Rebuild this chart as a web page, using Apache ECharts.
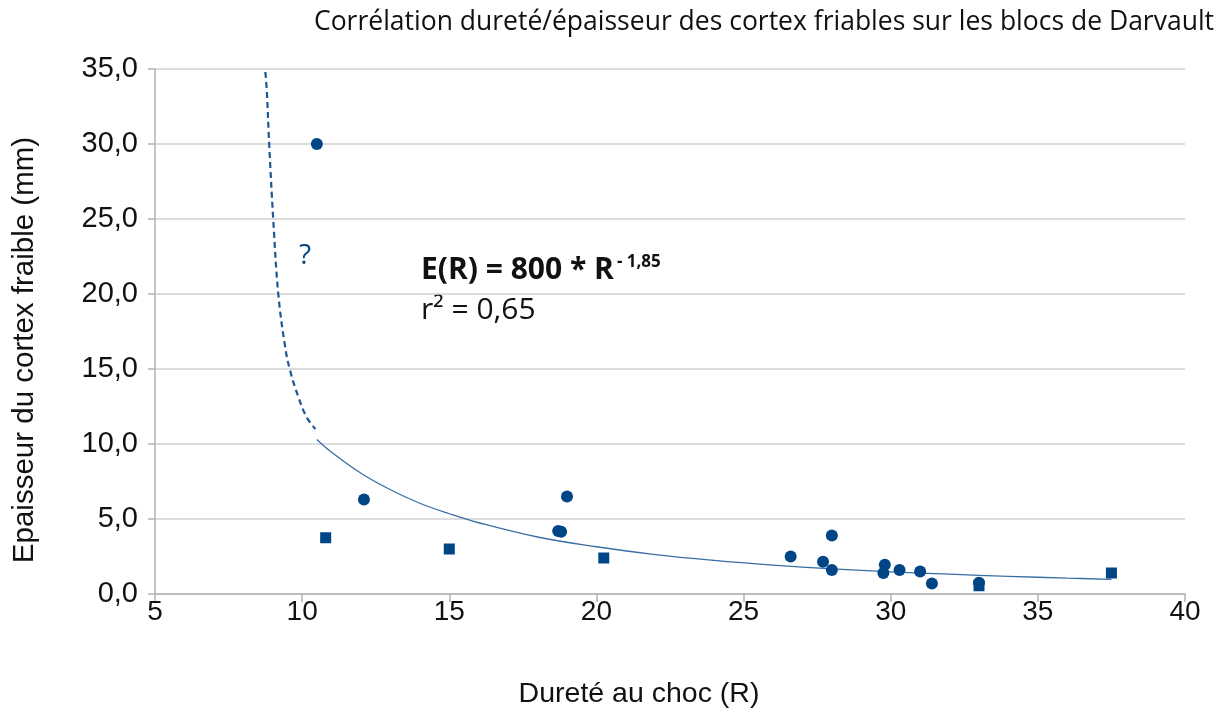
<!DOCTYPE html>
<html>
<head>
<meta charset="utf-8">
<script src="https://cdn.jsdelivr.net/npm/echarts@6/dist/echarts.min.js"></script>
<style>
  html, body { margin: 0; padding: 0; background: #fff; }
  #chart { width: 1216px; height: 712px; }
</style>
</head>
<body>
<div id="chart"></div>
<script>
// points mesurés (ronds) : dureté R, épaisseur mm
const rondsR = [10.5, 12.1, 18.7, 18.8, 19.0, 26.6, 27.7, 28.0, 28.0, 29.8, 29.75, 30.3, 31.0, 31.4, 33.0];
const rondsE = [30.0, 6.3, 4.2, 4.15, 6.5, 2.5, 2.15, 3.9, 1.6, 1.95, 1.4, 1.6, 1.5, 0.7, 0.75];
// points carrés
const carresR = [10.8, 15.0, 20.25, 33.0, 37.5];
const carresE = [3.75, 3.0, 2.4, 0.55, 1.4];
// courbe de tendance (trait plein)
const tendR = [10.5, 11, 12, 13, 14, 15, 16, 18, 20, 22, 24, 26, 28, 30, 32, 34, 36, 37.5];
const tendE = [10.3, 9.45, 8.05, 6.95, 6.05, 5.35, 4.75, 3.8, 3.15, 2.63, 2.24, 1.93, 1.68, 1.48, 1.32, 1.18, 1.06, 0.98];
// prolongement en pointillés (tracé à la main)
const pointR = [8.75, 8.8, 8.88, 9.02, 9.19, 9.42, 9.59, 9.87, 10.15, 10.45];
const pointE = [34.8, 33.5, 30.0, 24.9, 20.0, 16.5, 14.9, 13.15, 11.8, 11.0];
const yTicks = [0, 5, 10, 15, 20, 25, 30, 35];

const zip = (a, b) => a.map((v, i) => [v, b[i]]);
const bleu = '#004586';

const chart = echarts.init(document.getElementById('chart'));
chart.setOption({
  animation: false,
  backgroundColor: '#fff',
  title: {
    text: 'Corrélation dureté/épaisseur des cortex friables sur les blocs de Darvault',
    left: 759, top: 4, textAlign: 'center',
    textStyle: { fontFamily: 'Open Sans', fontWeight: 'normal', fontSize: 26.5, color: '#111' }
  },
  grid: { left: 155, right: 31, top: 69, bottom: 118 },
  xAxis: {
    type: 'value', min: 5, max: 40, interval: 5,
    axisLine: { show: true, lineStyle: { color: '#b3b3b3', width: 1.5 } },
    axisTick: { show: true, length: 8, lineStyle: { color: '#b3b3b3', width: 1.5 } },
    axisLabel: { fontFamily: 'Liberation Sans Narrow, Liberation Sans', fontSize: 28, color: '#111', margin: 4 },
    splitLine: { show: false }
  },
  yAxis: {
    type: 'value', min: 0, max: 35, interval: 5,
    axisLine: { show: true, lineStyle: { color: '#b3b3b3', width: 1.5 } },
    axisTick: { show: true, length: 7, lineStyle: { color: '#b3b3b3', width: 1.5 } },
    axisLabel: {
      fontFamily: 'Liberation Sans', fontSize: 29, color: '#111', margin: 17,
      formatter: v => yTicks.includes(v) ? v.toFixed(1).replace('.', ',') : ''
    },
    splitLine: { show: true, lineStyle: { color: '#d0d0d0', width: 1.5 } }
  },
  series: [
    {
      type: 'line', data: zip(pointR, pointE), smooth: 0.4, symbol: 'none',
      lineStyle: { color: '#1d5796', width: 2.2, type: [6, 4] }, z: 2
    },
    {
      type: 'line', data: zip(tendR, tendE), smooth: 0.4, symbol: 'none',
      lineStyle: { color: '#3a6ea6', width: 1.3 }, z: 2
    },
    {
      type: 'scatter', data: zip(rondsR, rondsE), symbol: 'circle', symbolSize: 12,
      itemStyle: { color: bleu, opacity: 1 }, z: 3
    },
    {
      type: 'scatter', data: zip(carresR, carresE), symbol: 'rect', symbolSize: 11,
      itemStyle: { color: bleu, opacity: 1 }, z: 3
    }
  ],
  graphic: [
    {
      type: 'text', x: 25, y: 350, rotation: Math.PI / 2,
      style: {
        text: 'Epaisseur du cortex fraible (mm)', font: '29.5px "Liberation Sans"', fill: '#111',
        align: 'center', verticalAlign: 'middle'
      }
    },
    {
      type: 'text', x: 639, y: 694,
      style: {
        text: 'Dureté au choc (R)', font: '28.5px "Liberation Sans"', fill: '#111',
        align: 'center', verticalAlign: 'middle'
      }
    },
    {
      type: 'text', left: 299, top: 242,
      style: { text: '?', font: '28px "Open Sans"', fill: bleu }
    },
    {
      type: 'text', left: 421, top: 254,
      style: {
        text: '{b|E(R) = 800 * R}{s|- 1,85}',
        rich: {
          b: { font: 'bold 30px "Open Sans"', fill: '#111' },
          s: { font: 'bold 17px "Open Sans"', fill: '#111', verticalAlign: 'top', padding: [0, 0, 16, 3] }
        }
      }
    },
    {
      type: 'text', left: 421, top: 295,
      style: { text: 'r² = 0,65', font: '30px "Open Sans"', fill: '#111' }
    }
  ]
});
</script>
</body>
</html>
